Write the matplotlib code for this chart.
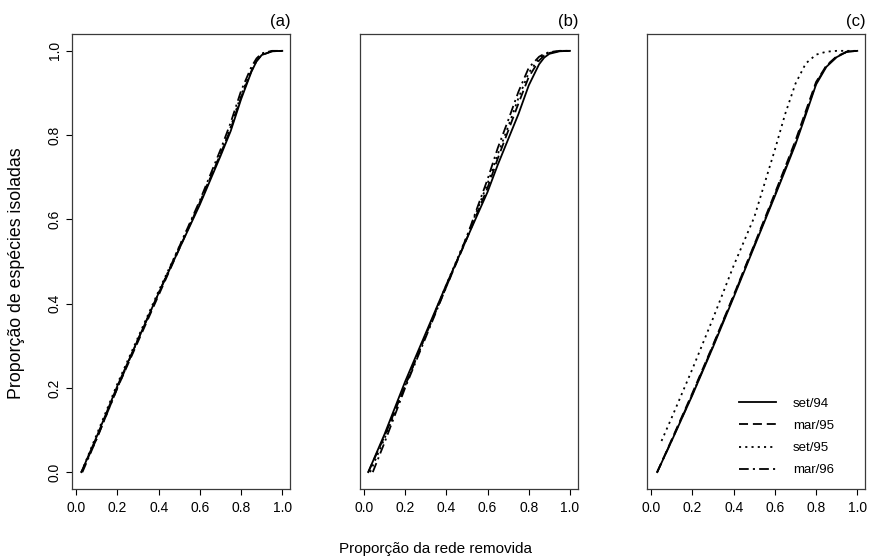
import matplotlib
matplotlib.use("Agg")
import matplotlib.pyplot as plt

plt.rcParams['font.family'] = ['Liberation Sans', 'DejaVu Sans']
plt.rcParams['lines.scale_dashes'] = False

# Sampling dates (legend labels)
series_labels = ["set/94", "mar/95", "set/95", "mar/96"]
panel_tags = ["(a)", "(b)", "(c)"]
x_ticks = [0.0, 0.2, 0.4, 0.6, 0.8, 1.0]
y_ticks = [0.0, 0.2, 0.4, 0.6, 0.8, 1.0]

# Panel (a): proportion of network removed (x) vs proportion of isolated species (y)
a_set94_x = [0.025, 0.1, 0.2, 0.3, 0.4, 0.5, 0.6, 0.7, 0.75, 0.8, 0.85, 0.875, 0.9, 0.95, 1.0]
a_set94_y = [0.0, 0.085, 0.205, 0.315, 0.425, 0.53, 0.635, 0.75, 0.81, 0.885, 0.95, 0.975, 0.99, 0.999, 1.0]
a_mar95_x = [0.025, 0.1, 0.2, 0.3, 0.4, 0.5, 0.6, 0.7, 0.75, 0.8, 0.85, 0.875, 0.9, 0.95, 1.0]
a_mar95_y = [0.0, 0.08, 0.2, 0.31, 0.42, 0.53, 0.64, 0.755, 0.815, 0.89, 0.952, 0.976, 0.99, 0.999, 1.0]
a_set95_x = [0.025, 0.1, 0.2, 0.3, 0.4, 0.5, 0.6, 0.7, 0.75, 0.8, 0.85, 0.875, 0.9, 0.95, 1.0]
a_set95_y = [0.0, 0.09, 0.21, 0.32, 0.43, 0.535, 0.64, 0.755, 0.82, 0.895, 0.955, 0.978, 0.992, 0.999, 1.0]
a_mar96_x = [0.03, 0.1, 0.2, 0.3, 0.4, 0.5, 0.6, 0.7, 0.75, 0.8, 0.85, 0.875, 0.9, 0.95, 1.0]
a_mar96_y = [0.0, 0.08, 0.2, 0.315, 0.425, 0.535, 0.645, 0.765, 0.83, 0.905, 0.962, 0.982, 0.994, 1.0, 1.0]

# Panel (b)
b_set94_x = [0.021, 0.1, 0.2, 0.3, 0.4, 0.5, 0.6, 0.65, 0.7, 0.75, 0.8, 0.85, 0.875, 0.9, 0.95, 1.0]
b_set94_y = [0.0, 0.09, 0.215, 0.33, 0.445, 0.555, 0.665, 0.73, 0.79, 0.85, 0.918, 0.968, 0.984, 0.993, 0.999, 1.0]
b_mar95_x = [0.021, 0.1, 0.2, 0.3, 0.4, 0.5, 0.6, 0.65, 0.7, 0.75, 0.8, 0.85, 0.875, 0.9, 0.95, 1.0]
b_mar95_y = [0.0, 0.085, 0.205, 0.325, 0.44, 0.555, 0.675, 0.745, 0.81, 0.875, 0.938, 0.977, 0.989, 0.995, 1.0, 1.0]
b_set95_x = [0.03, 0.1, 0.2, 0.3, 0.4, 0.5, 0.6, 0.65, 0.7, 0.75, 0.8, 0.85, 0.875, 0.9, 0.95, 1.0]
b_set95_y = [0.0, 0.08, 0.205, 0.325, 0.445, 0.56, 0.685, 0.755, 0.82, 0.888, 0.948, 0.982, 0.991, 0.996, 1.0, 1.0]
b_mar96_x = [0.043, 0.1, 0.2, 0.3, 0.4, 0.5, 0.6, 0.65, 0.7, 0.75, 0.8, 0.85, 0.875, 0.9, 0.95, 1.0]
b_mar96_y = [0.0, 0.07, 0.2, 0.32, 0.44, 0.56, 0.695, 0.77, 0.835, 0.903, 0.96, 0.986, 0.993, 0.997, 1.0, 1.0]

# Panel (c)
c_set94_x = [0.029, 0.1, 0.2, 0.3, 0.4, 0.5, 0.6, 0.65, 0.7, 0.75, 0.8, 0.85, 0.9, 0.95, 1.0]
c_set94_y = [0.0, 0.075, 0.183, 0.297, 0.415, 0.535, 0.655, 0.716, 0.778, 0.848, 0.92, 0.962, 0.985, 0.998, 1.0]
c_mar95_x = [0.029, 0.1, 0.2, 0.3, 0.4, 0.5, 0.6, 0.65, 0.7, 0.75, 0.8, 0.85, 0.9, 0.95, 1.0]
c_mar95_y = [0.0, 0.078, 0.188, 0.302, 0.42, 0.54, 0.662, 0.724, 0.787, 0.857, 0.926, 0.965, 0.987, 0.998, 1.0]
c_set95_x = [0.05, 0.1, 0.2, 0.3, 0.4, 0.5, 0.55, 0.6, 0.65, 0.7, 0.75, 0.8, 0.85, 0.9, 1.0]
c_set95_y = [0.074, 0.13, 0.245, 0.365, 0.49, 0.605, 0.685, 0.765, 0.85, 0.922, 0.97, 0.991, 0.998, 1.0, 1.0]
c_mar96_x = [0.029, 0.1, 0.2, 0.3, 0.4, 0.5, 0.6, 0.65, 0.7, 0.75, 0.8, 0.85, 0.9, 0.95, 1.0]
c_mar96_y = [0.0, 0.076, 0.185, 0.3, 0.418, 0.538, 0.658, 0.72, 0.782, 0.852, 0.923, 0.964, 0.986, 0.998, 1.0]

panels = [
    [(a_set94_x, a_set94_y), (a_mar95_x, a_mar95_y), (a_set95_x, a_set95_y), (a_mar96_x, a_mar96_y)],
    [(b_set94_x, b_set94_y), (b_mar95_x, b_mar95_y), (b_set95_x, b_set95_y), (b_mar96_x, b_mar96_y)],
    [(c_set94_x, c_set94_y), (c_mar95_x, c_mar95_y), (c_set95_x, c_set95_y), (c_mar96_x, c_mar96_y)],
]

# line styles: solid, dashed, dotted, dash-dot (dash lengths in points)
line_styles = ['-', (0, (6.5, 3.5)), (0, (1.5, 3.0)), (0, (7.0, 3.0, 1.5, 3.0))]

fig = plt.figure(figsize=(8.71, 5.6), dpi=100)
W, H = 871.0, 560.0
lefts = [72.3, 360.0, 647.3]
width_px = 218.0
bottom_px, top_px = 489.0, 34.0

axes = []
for i, left in enumerate(lefts):
    ax = fig.add_axes([left / W, (H - bottom_px) / H, width_px / W, (bottom_px - top_px) / H])
    axes.append(ax)
    for (xs, ys), ls, lab in zip(panels[i], line_styles, series_labels):
        ax.plot(xs, ys, color='black', lw=1.3, linestyle=ls, label=lab,
                solid_joinstyle='round', dash_capstyle='butt')
    ax.set_xlim(-0.019, 1.039)
    ax.set_ylim(-0.04, 1.04)
    ax.set_xticks(x_ticks)
    ax.set_xticklabels([f"{t:.1f}" for t in x_ticks])
    ax.tick_params(axis='both', direction='out', length=4, width=0.8,
                   labelsize=10, color='black')
    ax.tick_params(axis='x', pad=4.5)
    for sp in ax.spines.values():
        sp.set_color('#3a3a3a')
        sp.set_linewidth(0.9)
    if i == 0:
        ax.set_yticks(y_ticks)
        ax.set_yticklabels([f"{t:.1f}" for t in y_ticks], rotation=90, va='center')
        ax.tick_params(axis='y', pad=3.5)
    else:
        ax.set_yticks([])
    ax.text(1.0, 1.01, panel_tags[i], transform=ax.transAxes, ha='right',
            va='bottom', fontsize=12)

leg = axes[2].legend(loc='lower left', bbox_to_anchor=(0.42, 0.028), frameon=False,
                     fontsize=9.5, handlelength=2.8, handletextpad=1.3,
                     labelspacing=0.75, borderaxespad=0, borderpad=0)

fig.text(17 / W, 1 - 273 / H, "Proporção de espécies isoladas", rotation=90,
         ha='center', va='center', fontsize=12.8)
fig.text(0.5, 1 - 549 / H, "Proporção da rede removida", ha='center',
         va='center', fontsize=11)

fig.savefig("out.png", dpi=100)
